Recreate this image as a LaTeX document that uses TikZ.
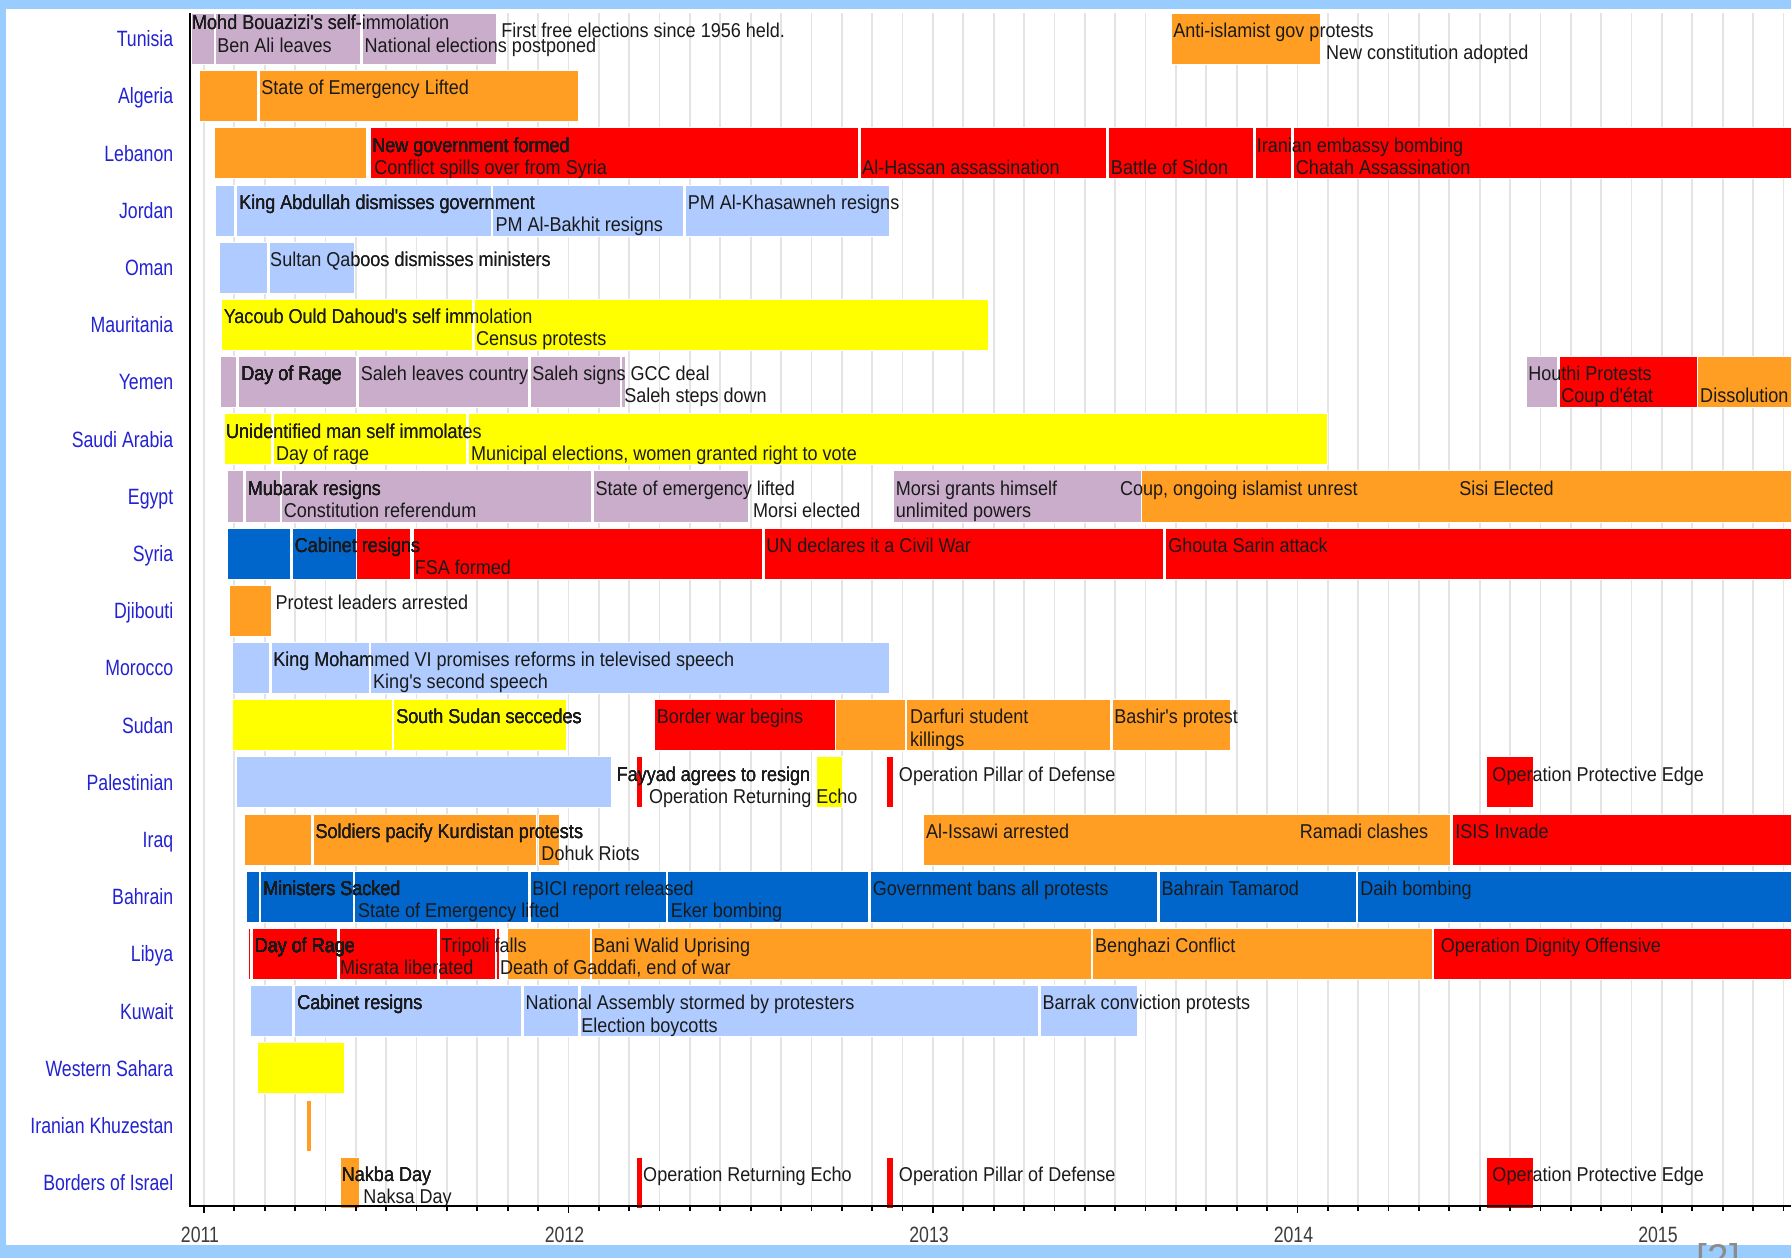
\documentclass[tikz,border=0pt]{standalone}
\usepackage{fontspec}
\newfontfamily\evfont[FakeStretch=0.9]{Liberation Sans}
\newfontfamily\cfont[FakeStretch=0.8]{Liberation Sans}
\newfontfamily\plainfont{Liberation Sans}
\definecolor{ink}{HTML}{1A1A1A}
\definecolor{frame}{HTML}{99CCFF}
\definecolor{gridc}{HTML}{E4E4E4}
\definecolor{cblue}{HTML}{2323D2}
\definecolor{mauve}{HTML}{C9ADCB}
\definecolor{orng}{HTML}{FF9E22}
\definecolor{redb}{HTML}{FF0000}
\definecolor{lblue}{HTML}{AFCBFF}
\definecolor{dblue}{HTML}{0066CC}
\definecolor{yell}{HTML}{FFFF00}
\definecolor{refgray}{HTML}{8C8C8C}
% one bar segment: colour, row, first month, last month
\newcommand{\seg}[4]{\fill[#1,draw=white,line width=.4pt] (#3,#2-.446) rectangle (#4,#2+.446);}

\begin{document}
\begin{tikzpicture}[x=0.6075cm,y=-1.144cm,
  ev/.style={font={\evfont\fontsize{11.4pt}{13pt}\selectfont},text=ink,inner sep=0pt,anchor=base west},
  country/.style={font={\cfont\fontsize{12.6pt}{14pt}\selectfont},text=cblue,inner sep=0pt,anchor=base east},
  yearlab/.style={font={\cfont\fontsize{12.6pt}{14pt}\selectfont},text=ink!85,inner sep=0pt},
  gridln/.style={gridc,line width=1pt},
  axisln/.style={black,line width=1pt}]
\useasboundingbox (-6.716,-0.678) rectangle (52.25,21.315);
% ---------------- frame and grid
\fill[frame] (-6.716,-0.678) rectangle (52.25,21.315);
\fill[white] (-6.519,-0.521) rectangle (52.25,21.087);
\foreach \m in {0,...,52} \draw[gridln] (\m,-.451) -- (\m,20.406);

% ---------------- Tunisia
\foreach \a/\b in {-0.43/0.33,0.37/5.15,5.23/9.63} \seg{mauve}{0}{\a}{\b}
\seg{orng}{0}{31.85}{36.77}
\node[ev] (tunA) at (-0.40,-0.166) {Mohd Bouazizi's self-immolation};
\node[ev] (tunB) at (0.43,0.245) {Ben Ali leaves};
\node[ev] (tunC) at (5.28,0.245) {National elections postponed};
\node[ev] (tunD) at (9.78,-0.02) {First free elections since 1956 held.};
\node[ev] (tunE) at (31.90,-0.02) {Anti-islamist gov protests};
\node[ev] (tunF) at (36.93,0.365) {New constitution adopted};

% ---------------- Algeria
\seg{orng}{1}{-0.14}{1.75}
\seg{orng}{1}{1.81}{12.33}
\node[ev] (algA) at (1.88,0.98) {State of Emergency Lifted};

% ---------------- Lebanon
\seg{orng}{2}{0.33}{5.33}
\foreach \a/\b in {5.47/21.56,21.60/29.72,29.77/34.56,34.60/35.81,35.85/52.3} \seg{redb}{2}{\a}{\b}
\node[ev] (lebA) at (5.53,1.98) {New government formed};
\node[ev] (lebB) at (5.60,2.365) {Conflict spills over from Syria};
\node[ev] (lebC) at (21.66,2.365) {Al-Hassan assassination};
\node[ev] (lebD) at (29.85,2.365) {Battle of Sidon};
\node[ev] (lebE) at (34.65,1.98) {Iranian embassy bombing};
\node[ev] (lebF) at (35.94,2.365) {Chatah Assassination};

% ---------------- Jordan
\foreach \a/\b in {0.39/0.99,1.05/9.46,9.51/15.77,15.85/22.58} \seg{lblue}{3}{\a}{\b}
\node[ev] (jorA) at (1.15,2.98) {King Abdullah dismisses government};
\node[ev] (jorB) at (9.59,3.365) {PM Al-Bakhit resigns};
\node[ev] (jorC) at (15.92,2.98) {PM Al-Khasawneh resigns};

% ---------------- Oman
\foreach \a/\b in {0.52/2.09,2.15/4.96} \seg{lblue}{4}{\a}{\b}
\node[ev] (omaA) at (2.17,3.98) {Sultan Qaboos dismisses ministers};

% ---------------- Mauritania
\foreach \a/\b in {0.56/8.82,8.89/25.84} \seg{yell}{5}{\a}{\b}
\node[ev] (mauA) at (0.64,4.98) {Yacoub Ould Dahoud's self immolation};
\node[ev] (mauB) at (8.95,5.365) {Census protests};

% ---------------- Yemen
\foreach \a/\b in {0.55/1.05,1.13/5.03,5.08/10.67,10.73/13.70,13.73/13.88,43.52/44.57} \seg{mauve}{6}{\a}{\b}
\seg{redb}{6}{44.63}{49.15}
\seg{orng}{6}{49.18}{52.3}
\node[ev] (yemA) at (1.22,5.98) {Day of Rage};
\node[ev] (yemB) at (5.15,5.98) {Saleh leaves country};
\node[ev] (yemC) at (10.80,5.98) {Saleh signs GCC deal};
\node[ev] (yemD) at (13.83,6.365) {Saleh steps down};
\node[ev] (yemE) at (43.59,5.98) {Houthi Protests};
\node[ev] (yemF) at (44.68,6.365) {Coup d'état};
\node[ev] (yemG) at (49.25,6.365) {Dissolution};

% ---------------- Saudi Arabia
\foreach \a/\b in {0.66/2.21,2.28/8.65,8.72/37.00} \seg{yell}{7}{\a}{\b}
\node[ev] (sauA) at (0.72,6.98) {Unidentified man self immolates};
\node[ev] (sauB) at (2.36,7.365) {Day of rage};
\node[ev] (sauC) at (8.78,7.365) {Municipal elections, women granted right to vote};

% ---------------- Egypt
\foreach \a/\b in {0.78/1.29,1.37/2.50,2.56/12.75,12.81/17.91,22.68/30.85} \seg{mauve}{8}{\a}{\b}
\seg{orng}{8}{30.87}{52.3}
\node[ev] (egyA) at (1.43,7.98) {Mubarak resigns};
\node[ev] (egyB) at (2.62,8.365) {Constitution referendum};
\node[ev] (egyC) at (12.88,7.98) {State of emergency lifted};
\node[ev] (egyD) at (18.07,8.365) {Morsi elected};
\node[ev] (egyE) at (22.77,7.98) {Morsi grants himself};
\node[ev] (egyF) at (22.77,8.365) {unlimited powers};
\node[ev] (egyG) at (30.15,7.98) {Coup, ongoing islamist unrest};
\node[ev] (egyH) at (41.32,7.98) {Sisi Elected};

% ---------------- Syria
\foreach \a/\b in {0.78/2.83,2.92/5.03} \seg{dblue}{9}{\a}{\b}
\foreach \a/\b in {5.03/6.81,6.89/18.38,18.44/31.60,31.66/52.3} \seg{redb}{9}{\a}{\b}
\node[ev] (syrA) at (2.98,8.98) {Cabinet resigns};
\node[ev] (syrB) at (6.93,9.365) {FSA formed};
\node[ev] (syrC) at (18.50,8.98) {UN declares it a Civil War};
\node[ev] (syrD) at (31.74,8.98) {Ghouta Sarin attack};

% ---------------- Djibouti
\seg{orng}{10}{0.84}{2.21}
\node[ev] (djiA) at (2.35,9.98) {Protest leaders arrested};

% ---------------- Morocco
\foreach \a/\b in {0.95/2.15,2.21/5.43,5.49/22.58} \seg{lblue}{11}{\a}{\b}
\node[ev] (morA) at (2.27,10.98) {King Mohammed VI promises reforms in televised speech};
\node[ev] (morB) at (5.56,11.365) {King's second speech};

% ---------------- Sudan
\foreach \a/\b in {0.95/6.19,6.25/11.94} \seg{yell}{12}{\a}{\b}
\seg{redb}{12}{14.83}{20.78}
\foreach \a/\b in {20.79/23.09,23.14/29.83,29.89/33.78} \seg{orng}{12}{\a}{\b}
\node[ev] (sudA) at (6.32,11.98) {South Sudan seccedes};
\node[ev] (sudB) at (14.90,11.98) {Border war begins};
\node[ev] (sudC) at (23.24,11.98) {Darfuri student};
\node[ev] (sudD) at (23.24,12.365) {killings};
\node[ev] (sudE) at (29.96,11.98) {Bashir's protest};

% ---------------- Palestinian
\seg{lblue}{13}{1.05}{13.42}
\seg{yell}{13}{20.17}{21.03}
\foreach \a/\b in {14.25/14.42,22.48/22.69,42.21/43.77} \seg{redb}{13}{\a}{\b}
\node[ev] (palA) at (13.58,12.98) {Fayyad agrees to resign};
\node[ev] (palB) at (14.64,13.365) {Operation Returning Echo};
\node[ev] (palC) at (22.87,12.98) {Operation Pillar of Defense};
\node[ev] (palD) at (42.41,12.98) {Operation Protective Edge};

% ---------------- Iraq
\foreach \a/\b in {1.32/3.55,3.60/10.95,11.01/11.71,23.67/41.02} \seg{orng}{14}{\a}{\b}
\seg{redb}{14}{41.11}{52.3}
\node[ev] (iraA) at (3.66,13.98) {Soldiers pacify Kurdistan protests};
\node[ev] (iraB) at (11.10,14.365) {Dohuk Riots};
\node[ev] (iraC) at (23.76,13.98) {Al-Issawi arrested};
\node[ev] (iraD) at (36.07,13.98) {Ramadi clashes};
\node[ev] (iraE) at (41.19,13.98) {ISIS Invade};

% ---------------- Bahrain
\foreach \a/\b in {1.41/1.81,1.86/4.91,4.96/10.67,10.73/15.21,15.26/21.88,21.93/31.38,31.44/37.93,37.98/52.3} \seg{dblue}{15}{\a}{\b}
\node[ev] (bahA) at (1.94,14.98) {Ministers Sacked};
\node[ev] (bahB) at (5.06,15.365) {State of Emergency lifted};
\node[ev] (bahC) at (10.80,14.98) {BICI report released};
\node[ev] (bahD) at (15.36,15.365) {Eker bombing};
\node[ev] (bahE) at (22.01,14.98) {Government bans all protests};
\node[ev] (bahF) at (31.52,14.98) {Bahrain Tamarod};
\node[ev] (bahG) at (38.06,14.98) {Daih bombing};

% ---------------- Libya
\foreach \a/\b in {1.46/1.53,1.58/4.40,4.45/7.68,7.74/9.58,9.63/9.71,40.48/52.3} \seg{redb}{16}{\a}{\b}
\foreach \a/\b in {9.99/12.71,12.76/29.20,29.24/40.43} \seg{orng}{16}{\a}{\b}
\node[ev] (libA) at (1.66,15.98) {Day of Rage};
\node[ev] (libB) at (4.47,16.365) {Misrata liberated};
\node[ev] (libC) at (7.80,15.98) {Tripoli falls};
\node[ev] (libD) at (9.74,16.365) {Death of Gaddafi, end of war};
\node[ev] (libE) at (12.81,15.98) {Bani Walid Uprising};
\node[ev] (libF) at (29.33,15.98) {Benghazi Conflict};
\node[ev] (libG) at (40.71,15.98) {Operation Dignity Offensive};

% ---------------- Kuwait
\foreach \a/\b in {1.54/2.90,2.96/10.45,10.51/12.34,12.39/27.47,27.52/30.74} \seg{lblue}{17}{\a}{\b}
\node[ev] (kuwA) at (3.06,16.98) {Cabinet resigns};
\node[ev] (kuwB) at (10.58,16.98) {National Assembly stormed by protesters};
\node[ev] (kuwC) at (12.41,17.365) {Election boycotts};
\node[ev] (kuwD) at (27.60,16.98) {Barrak conviction protests};

% ---------------- Western Sahara, Iranian Khuzestan
\seg{yell}{18}{1.75}{4.62}
\seg{orng}{19}{3.37}{3.55}

% ---------------- Borders of Israel
\seg{orng}{20}{4.48}{5.10}
\foreach \a/\b in {14.25/14.42,22.48/22.69,42.21/43.77} \seg{redb}{20}{\a}{\b}
\node[ev] (borA) at (4.53,19.98) {Nakba Day};
\node[ev] (borB) at (5.24,20.365) {Naksa Day};
\node[ev] (borC) at (14.45,19.98) {Operation Returning Echo};
\node[ev] (borD) at (22.87,19.98) {Operation Pillar of Defense};
\node[ev] (borE) at (42.41,19.98) {Operation Protective Edge};

% ---------------- axes, row names, years
\draw[axisln] (-0.461,-.451) -- (-0.461,20.406) -- (52.3,20.406);
\foreach \m in {0,...,52} \draw[axisln] (\m,20.406) -- (\m,20.49);
\foreach \m in {0,12,...,48} \draw[axisln] (\m,20.406) -- (\m,20.53);
\foreach \c [count=\r from 0] in {Tunisia,Algeria,Lebanon,Jordan,Oman,Mauritania,Yemen,
    Saudi Arabia,Egypt,Syria,Djibouti,Morocco,Sudan,Palestinian,Iraq,Bahrain,Libya,Kuwait,
    Western Sahara,Iranian Khuzestan,Borders of Israel}
  \node[country] (c\r) at (-1.0,\r+0.14) {\c};
\foreach \yr [count=\i from 0] in {2011,2012,2013,2014,2015}
  \node[yearlab] (y\yr) at (12*\i-0.13,20.91) {\yr};
\node[font={\plainfont\fontsize{22pt}{26pt}\selectfont},text=refgray,inner sep=0pt,anchor=base] (ref) at (49.86,21.56) {[2]};
\end{tikzpicture}
\end{document}
